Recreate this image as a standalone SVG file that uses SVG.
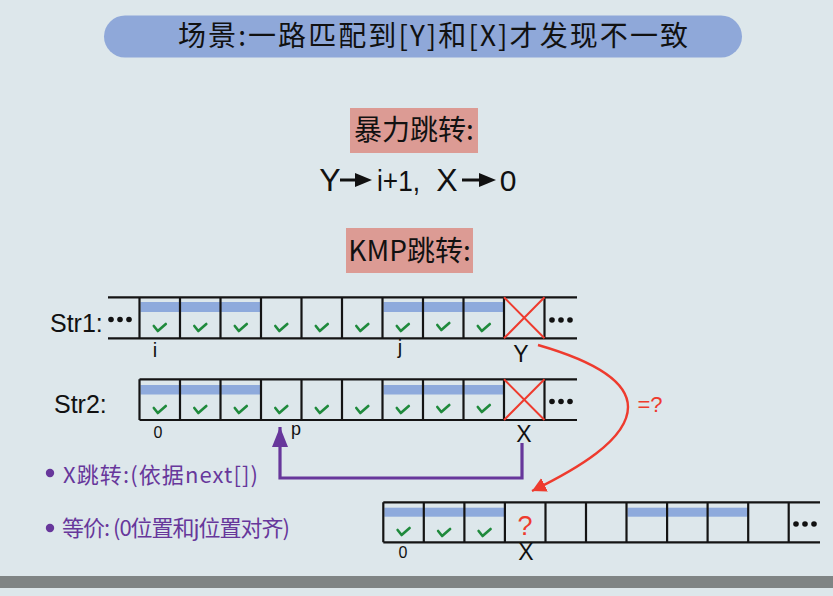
<svg xmlns="http://www.w3.org/2000/svg" xmlns:xlink="http://www.w3.org/1999/xlink" width="833" height="596" viewBox="0 0 833 596">
<style>
.cjk{font-family:"Noto Sans CJK SC","Noto Sans",sans-serif;fill:#111}
.lat{font-family:"Liberation Sans","Noto Sans",sans-serif;fill:#111}
.grid{stroke:#141414;stroke-width:2.2;fill:none}
.bar{fill:#8eaadc}
.chk{stroke:#1f8a3c;stroke-width:2.6;fill:none;stroke-linecap:round;stroke-linejoin:round}
.xmark{stroke:#ee3b2e;stroke-width:2;fill:none}
.purple{fill:#67379b;font-family:"Noto Sans CJK SC","Noto Sans",sans-serif}
.dot{fill:#111}
</style>
<defs>
<path id="ck" class="chk" d="M-6,-3 L-2,2 L6,-5"/>
<g id="dots"><circle cx="0" cy="0" r="2.8"/><circle cx="9" cy="0" r="2.8"/><circle cx="18" cy="0" r="2.8"/></g>
<marker id="redHead" markerUnits="userSpaceOnUse" markerWidth="16" markerHeight="16" refX="14" refY="7.5" orient="auto"><path d="M0,0 L14,7.5 L0,15 z" fill="#ee3b2e"/></marker>
<marker id="purHead" markerUnits="userSpaceOnUse" markerWidth="22" markerHeight="18" refX="20" refY="8" orient="auto"><path d="M0,0 L20,8 L0,16 z" fill="#67379b"/></marker>
</defs>
<rect x="0" y="0" width="833" height="596" fill="#dde7eb"/>
<rect x="0" y="576" width="833" height="12" fill="#7f8484"/>

<g id="title">
<rect x="104" y="15.5" width="638" height="42" rx="21" fill="#8fa8d9"/>
<text class="cjk" x="178" y="46" font-size="28" textLength="510" lengthAdjust="spacing">场景:一路匹配到[Y]和[X]才发现不一致</text>
</g>

<g id="brute">
<rect x="350" y="108" width="128" height="45" fill="#dc9b94"/>
<text class="cjk" x="414" y="140" font-size="28" text-anchor="middle">暴力跳转:</text>
</g>

<g id="brute-rule">
<text class="lat" x="330" y="191" font-size="32" text-anchor="middle">Y</text>
<line x1="340" y1="180" x2="358" y2="180" stroke="#111" stroke-width="3"/>
<polygon points="355,173 372,180 355,187" fill="#111"/>
<text class="lat" x="377" y="191" font-size="30" textLength="43" lengthAdjust="spacingAndGlyphs">i+1,</text>
<text class="lat" x="447" y="191" font-size="32" text-anchor="middle">X</text>
<line x1="462" y1="180" x2="482" y2="180" stroke="#111" stroke-width="3"/>
<polygon points="479,173 496,180 479,187" fill="#111"/>
<text class="lat" x="508" y="191" font-size="30" text-anchor="middle">0</text>
</g>

<g id="kmp">
<rect x="346" y="228" width="127" height="45" fill="#dc9b94"/>
<text class="cjk" x="409.5" y="261" font-size="28" text-anchor="middle">KMP跳转:</text>
</g>

<g id="str1">
<text class="lat" x="50" y="332" font-size="25">Str1:</text>
<use xlink:href="#dots" x="111" y="319.5" class="dot"/>
<rect class="bar" x="140.5" y="302" width="120" height="10"/>
<rect class="bar" x="383.5" y="302" width="120" height="10"/>
<path class="grid" d="M108,297.3 H577 M108,338.3 H577 M139.5,297.3 V338.3 M180,297.3 V338.3 M220.5,297.3 V338.3 M261,297.3 V338.3 M301.5,297.3 V338.3 M342,297.3 V338.3 M382.5,297.3 V338.3 M423,297.3 V338.3 M463.5,297.3 V338.3 M504,297.3 V338.3 M544.5,297.3 V338.3"/>
<path class="xmark" d="M504,297.3 L544.5,338.3 M544.5,297.3 L504,338.3"/>
<use xlink:href="#ck" x="159.8" y="329"/>
<use xlink:href="#ck" x="200.3" y="329"/>
<use xlink:href="#ck" x="240.8" y="329"/>
<use xlink:href="#ck" x="281.3" y="329"/>
<use xlink:href="#ck" x="321.8" y="329"/>
<use xlink:href="#ck" x="362.3" y="329"/>
<use xlink:href="#ck" x="402.8" y="329"/>
<use xlink:href="#ck" x="443.3" y="328"/>
<use xlink:href="#ck" x="483.8" y="329"/>
<use xlink:href="#dots" x="552" y="320" class="dot"/>
<text class="lat" x="155" y="357" font-size="20" text-anchor="middle">i</text>
<text class="lat" x="400" y="354" font-size="20" text-anchor="middle">j</text>
<text class="lat" x="521" y="362" font-size="23" text-anchor="middle">Y</text>
</g>

<g id="str2">
<text class="lat" x="54" y="413" font-size="25">Str2:</text>
<rect class="bar" x="140.5" y="385" width="120" height="9.5"/>
<rect class="bar" x="383.5" y="385" width="120" height="9.5"/>
<path class="grid" d="M139.5,379.3 H577 M139.5,420 H577 M139.5,379.3 V420 M180,379.3 V420 M220.5,379.3 V420 M261,379.3 V420 M301.5,379.3 V420 M342,379.3 V420 M382.5,379.3 V420 M423,379.3 V420 M463.5,379.3 V420 M504,379.3 V420 M544.5,379.3 V420"/>
<path class="xmark" d="M504,379.3 L544.5,420 M544.5,379.3 L504,420"/>
<use xlink:href="#ck" x="159.8" y="411"/>
<use xlink:href="#ck" x="200.3" y="411"/>
<use xlink:href="#ck" x="240.8" y="411"/>
<use xlink:href="#ck" x="281.3" y="411"/>
<use xlink:href="#ck" x="321.8" y="411"/>
<use xlink:href="#ck" x="362.3" y="411"/>
<use xlink:href="#ck" x="402.8" y="411"/>
<use xlink:href="#ck" x="443.3" y="410"/>
<use xlink:href="#ck" x="483.8" y="410"/>
<use xlink:href="#dots" x="552" y="401.5" class="dot"/>
<text class="lat" x="158" y="438" font-size="16" text-anchor="middle">0</text>
<text class="lat" x="296" y="435" font-size="18" text-anchor="middle">p</text>
<text class="lat" x="524" y="442" font-size="23" text-anchor="middle">X</text>
</g>

<g id="str2-shifted">
<rect class="bar" x="384.3" y="507.7" width="120.6" height="9"/>
<rect class="bar" x="627.5" y="507.7" width="120.6" height="9"/>
<path class="grid" d="M383.3,502.3 H820 M383.3,542.3 H820 M383.3,502.3 V542.3 M423.8,502.3 V542.3 M464.4,502.3 V542.3 M504.9,502.3 V542.3 M545.5,502.3 V542.3 M586,502.3 V542.3 M626.5,502.3 V542.3 M667.1,502.3 V542.3 M707.6,502.3 V542.3 M748.2,502.3 V542.3 M788.7,502.3 V542.3"/>
<use xlink:href="#ck" x="403.6" y="533"/>
<use xlink:href="#ck" x="444.1" y="534"/>
<use xlink:href="#ck" x="484.6" y="534"/>
<text x="525" y="535" font-size="27" text-anchor="middle" fill="#ee3b2e" font-family="Liberation Sans, sans-serif">?</text>
<use xlink:href="#dots" x="796" y="524" class="dot"/>
<text class="lat" x="403" y="558" font-size="16" text-anchor="middle">0</text>
<text class="lat" x="526" y="560" font-size="23" text-anchor="middle">X</text>
</g>

<g id="notes">
<circle cx="50" cy="473" r="4.2" fill="#67379b"/>
<text class="purple" x="63" y="483" font-size="22" textLength="195" lengthAdjust="spacing">X跳转:(依据next[])</text>
<circle cx="50" cy="528" r="4.2" fill="#67379b"/>
<text class="purple" x="62" y="536" font-size="22" textLength="228" lengthAdjust="spacing">等价: (0位置和j位置对齐)</text>
</g>

<g id="connectors">
<path d="M538,345 C590,360 628,380 628,407 C628,440 575,470 532,491" fill="none" stroke="#ee3b2e" stroke-width="2.4" marker-end="url(#redHead)"/>
<text x="650" y="412" font-size="22" text-anchor="middle" fill="#ee3b2e" font-family="Liberation Sans, sans-serif">=?</text>
<path d="M522,443 V478 H280 V427" fill="none" stroke="#67379b" stroke-width="3.2" marker-end="url(#purHead)"/>
</g>
</svg>
